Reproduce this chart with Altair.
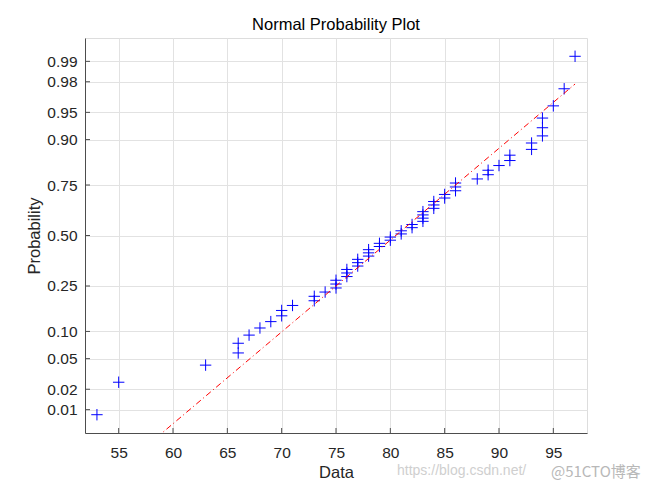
import statistics
import numpy as np
import pandas as pd
import altair as alt

# sorted sample values (n = 60)
data_values = [53, 55, 63, 66, 66, 67, 68, 69, 70, 70, 71, 73, 73, 74,
               75, 75, 75, 76, 76, 76, 77, 77, 77, 78, 78, 78, 79, 79,
               80, 80, 81, 81, 82, 82, 83, 83, 83, 83, 84, 84, 84, 85, 85,
               86, 86, 86, 88, 89, 89, 90, 91, 91, 93, 93, 94, 94, 94,
               95, 96, 97]
x_ticks = [55, 60, 65, 70, 75, 80, 85, 90, 95]
prob_ticks = [0.01, 0.02, 0.05, 0.10, 0.25, 0.50, 0.75, 0.90, 0.95, 0.98, 0.99]
title_text = ["Normal Probability Plot"]

nd = statistics.NormalDist()
xs = sorted(data_values)
n = len(xs)
probs = [(i - 0.5) / n for i in range(1, n + 1)]
zs = [nd.inv_cdf(p) for p in probs]
pts = pd.DataFrame({"x": xs, "z": zs})

# reference line through the quartiles (MATLAB normplot style)
q1 = float(np.interp(0.25, probs, xs))
q3 = float(np.interp(0.75, probs, xs))
z1, z3 = nd.inv_cdf(0.25), nd.inv_cdf(0.75)
slope = (z3 - z1) / (q3 - q1)
line_x = [min(xs), max(xs)]
line_df = pd.DataFrame({"x": line_x, "z": [z1 + slope * (v - q1) for v in line_x]})

rng = max(xs) - min(xs)
xscale = alt.Scale(domain=[min(xs) - 0.025 * rng, max(xs) + 0.025 * rng], nice=False, zero=False)
ylim = nd.inv_cdf(1 - 0.25 / n)
yscale = alt.Scale(domain=[-ylim, ylim], nice=False, zero=False)
y_tick_z = [nd.inv_cdf(p) for p in prob_ticks]

FONT = "Liberation Sans"
AX = "#262626"
GRID = "#e2e2e2"

xaxis = alt.Axis(values=x_ticks, grid=True, ticks=False, labelPadding=12,
                 labelFontSize=15.5, titleFontSize=16.5, titlePadding=4,
                 labelFont=FONT, titleFont=FONT, titleFontWeight="normal",
                 labelColor=AX, titleColor=AX, domainColor="#4d4d4d",
                 gridColor=GRID, labelFlush=False)
yaxis = alt.Axis(values=y_tick_z, grid=True, ticks=False, labelPadding=8,
                 labelExpr="format(cumulativeNormal(datum.value), '.2f')",
                 labelFontSize=15.5, titleFontSize=16.5, titlePadding=4,
                 labelFont=FONT, titleFont=FONT, titleFontWeight="normal",
                 labelColor=AX, titleColor=AX, domainColor="#4d4d4d",
                 gridColor=GRID, labelFlush=False)

X = alt.X("x:Q", scale=xscale, axis=xaxis, title="Data")
Y = alt.Y("z:Q", scale=yscale, axis=yaxis, title="Probability")

points = alt.Chart(pts).mark_point(
    shape="M-1,0L1,0M0,-1L0,1", filled=False, size=130,
    color="#0000ff", strokeWidth=1, opacity=1
).encode(x=X, y=Y)

ref = alt.Chart(line_df).mark_line(
    color="#ff0000", strokeDash=[6, 3, 1, 3], strokeWidth=1, clip=True
).encode(x=X, y=Y)

xt = alt.Chart(pd.DataFrame({"x": x_ticks})).mark_rule(color="#4d4d4d", strokeWidth=1).encode(
    x=X, y=alt.value(395), y2=alt.value(390))
yt = alt.Chart(pd.DataFrame({"z": y_tick_z})).mark_rule(color="#4d4d4d", strokeWidth=1).encode(
    y=Y, x=alt.value(0), x2=alt.value(5))

title = alt.Chart(pd.DataFrame({"t": title_text})).mark_text(
    align="center", baseline="alphabetic", fontSize=16.5, font=FONT, color="#000000"
).encode(text="t:N", x=alt.value(251), y=alt.value(-8.5))

wm1 = alt.Chart(pd.DataFrame({"t": ["https://blog.csdn.net/"]})).mark_text(
    align="left", baseline="alphabetic", fontSize=14, font=FONT, color="#cfcfcf"
).encode(text="t:N", x=alt.value(312), y=alt.value(437))
wm2 = alt.Chart(pd.DataFrame({"t": ["@51CTO博客"]})).mark_text(
    align="left", baseline="alphabetic", fontSize=15, font="Noto Sans CJK SC", color="#b8b8b8"
).encode(text="t:N", x=alt.value(466), y=alt.value(439))

chart = alt.layer(points, ref, xt, yt, title, wm1, wm2).properties(
    width=502, height=395,
    autosize=alt.AutoSizeParams(type="none"),
    padding={"left": 77, "top": 30, "right": 55, "bottom": 47},
).configure_view(stroke=None).configure(background="white")

chart.save("out.html", embed_options={"renderer": "svg", "actions": False})
